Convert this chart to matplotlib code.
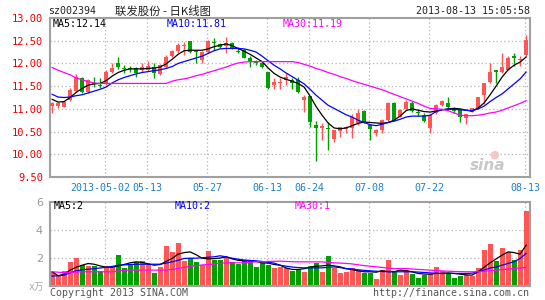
import numpy as np
import matplotlib
matplotlib.use("Agg")
from matplotlib import pyplot as plt

# daily candles, index 0 .. 79 (2013-04-17 .. 2013-08-13)
opens = [11.06, 11.06, 11.05, 11.19, 11.40, 11.69, 11.38, 11.57, 11.53, 11.58,
         11.82, 12.00, 11.90, 11.90, 11.89, 11.85, 11.85, 11.93, 11.76, 11.93,
         12.16, 12.28, 12.39, 12.50, 12.27, 12.07, 12.26, 12.47, 12.43, 12.38,
         12.44, 12.27, 12.29, 12.12, 12.04, 12.00, 11.82, 11.52, 11.56, 11.63,
         11.63, 11.63, 11.19, 11.28, 10.64, 10.57, 10.57, 10.34, 10.52, 10.55,
         10.58, 10.69, 10.96, 10.64, 10.47, 10.54, 10.75, 11.12, 10.82, 11.00,
         11.12, 10.92, 10.86, 10.57, 10.90, 11.08, 11.13, 10.98, 10.97, 10.79,
         10.93, 11.01, 11.30, 11.59, 11.85, 11.82, 11.86, 12.16, 12.08, 12.18]
closes = [11.13, 11.12, 11.16, 11.42, 11.70, 11.38, 11.63, 11.55, 11.51, 11.82,
          11.90, 11.93, 11.88, 11.88, 11.79, 11.93, 11.94, 11.79, 11.96, 12.15,
          12.28, 12.41, 12.41, 12.26, 12.26, 12.26, 12.50, 12.45, 12.37, 12.46,
          12.33, 12.26, 12.13, 12.06, 12.00, 11.93, 11.46, 11.60, 11.60, 11.71,
          11.56, 11.37, 11.26, 10.70, 10.57, 10.62, 10.55, 10.53, 10.59, 10.61,
          10.81, 10.90, 10.71, 10.55, 10.54, 10.76, 11.13, 10.76, 10.98, 11.15,
          10.96, 10.91, 10.74, 10.87, 11.08, 11.17, 11.03, 10.96, 10.82, 10.88,
          11.01, 11.26, 11.56, 11.82, 11.82, 11.93, 12.11, 12.11, 12.10, 12.51]
highs = [11.15, 11.16, 11.18, 11.45, 11.77, 11.70, 11.65, 11.70, 11.67, 11.85,
         12.01, 12.14, 11.96, 11.95, 11.92, 12.00, 12.06, 12.00, 11.98, 12.19,
         12.30, 12.46, 12.48, 12.50, 12.30, 12.27, 12.51, 12.55, 12.46, 12.59,
         12.48, 12.37, 12.31, 12.16, 12.08, 12.04, 11.82, 11.67, 11.67, 11.78,
         11.67, 11.70, 11.30, 11.28, 10.73, 10.68, 10.71, 10.54, 10.61, 10.63,
         10.88, 11.00, 10.97, 10.66, 10.56, 10.78, 11.15, 11.16, 10.99, 11.20,
         11.17, 11.00, 10.91, 10.88, 11.10, 11.19, 11.27, 11.04, 10.98, 10.89,
         11.02, 11.27, 11.57, 12.00, 11.86, 12.22, 12.16, 12.22, 12.16, 12.62]
lows = [10.90, 11.02, 11.03, 11.18, 11.38, 11.36, 11.36, 11.48, 11.45, 11.52,
        11.80, 11.88, 11.78, 11.82, 11.70, 11.82, 11.83, 11.69, 11.74, 11.91,
        12.14, 12.22, 12.19, 12.22, 12.00, 12.00, 12.24, 12.29, 12.33, 12.22,
        12.31, 12.22, 12.11, 11.93, 11.97, 11.90, 11.43, 11.43, 11.43, 11.52,
        11.43, 11.36, 10.92, 10.60, 9.86, 10.31, 10.09, 10.26, 10.37, 10.46,
        10.35, 10.64, 10.69, 10.31, 10.40, 10.47, 10.73, 10.74, 10.81, 10.98,
        10.93, 10.84, 10.71, 10.46, 10.89, 11.06, 11.02, 10.90, 10.71, 10.67,
        10.92, 11.00, 11.10, 11.58, 11.56, 11.80, 11.85, 11.95, 11.95, 12.16]

ma5 = [11.21, 11.15, 11.16, 11.25, 11.36, 11.45, 11.52, 11.55, 11.56, 11.62,
       11.72, 11.80, 11.85, 11.88, 11.88, 11.88, 11.89, 11.90, 11.92, 11.99,
       12.09, 12.20, 12.28, 12.29, 12.29, 12.29, 12.32, 12.37, 12.40, 12.43,
       12.39, 12.33, 12.27, 12.20, 12.12, 12.04, 11.90, 11.78, 11.70, 11.65,
       11.61, 11.56, 11.48, 11.28, 11.05, 10.86, 10.69, 10.58, 10.56, 10.58,
       10.63, 10.68, 10.71, 10.70, 10.69, 10.68, 10.70, 10.75, 10.84, 10.96,
       11.00, 10.97, 10.94, 10.93, 10.95, 10.98, 11.00, 11.01, 11.00, 10.97,
       10.95, 11.02, 11.13, 11.31, 11.50, 11.70, 11.86, 11.96, 12.03, 12.14]
ma10 = [11.32, 11.26, 11.25, 11.26, 11.29, 11.31, 11.35, 11.39, 11.43, 11.48,
        11.57, 11.64, 11.69, 11.73, 11.77, 11.80, 11.82, 11.84, 11.86, 11.89,
        11.93, 12.00, 12.04, 12.08, 12.12, 12.16, 12.22, 12.28, 12.32, 12.33,
        12.33, 12.33, 12.32, 12.29, 12.25, 12.16, 12.06, 11.96, 11.88, 11.79,
        11.71, 11.63, 11.55, 11.43, 11.30, 11.19, 11.08, 11.01, 10.94, 10.87,
        10.82, 10.75, 10.70, 10.65, 10.63, 10.66, 10.70, 10.73, 10.77, 10.82,
        10.84, 10.84, 10.84, 10.86, 10.94, 10.98, 10.99, 10.99, 10.98, 10.97,
        10.96, 11.00, 11.06, 11.16, 11.25, 11.33, 11.44, 11.55, 11.66, 11.81]
ma30 = [11.91, 11.85, 11.80, 11.75, 11.68, 11.64, 11.60, 11.57, 11.56, 11.56,
        11.56, 11.56, 11.56, 11.56, 11.56, 11.56, 11.56, 11.56, 11.56, 11.56,
        11.61, 11.64, 11.66, 11.69, 11.73, 11.76, 11.80, 11.84, 11.88, 11.92,
        11.97, 12.01, 12.03, 12.04, 12.04, 12.04, 12.04, 12.04, 12.04, 12.04,
        12.04, 12.02, 11.98, 11.94, 11.89, 11.85, 11.80, 11.76, 11.71, 11.67,
        11.62, 11.58, 11.54, 11.50, 11.46, 11.42, 11.37, 11.32, 11.27, 11.22,
        11.17, 11.12, 11.06, 11.01, 11.00, 10.99, 10.96, 10.91, 10.86, 10.85,
        10.85, 10.86, 10.88, 10.91, 10.93, 10.97, 11.02, 11.07, 11.12, 11.18]

# volume (x 10k lots)
volume = [0.98, 0.67, 1.05, 1.69, 1.98, 1.43, 1.38, 1.38, 1.05, 1.38,
          1.33, 2.17, 1.26, 1.45, 1.69, 1.74, 1.52, 0.90, 1.33, 2.81,
          2.40, 3.05, 1.76, 1.93, 1.69, 1.45, 2.48, 1.81, 1.81, 2.05,
          1.69, 1.57, 1.74, 1.76, 1.33, 1.62, 1.45, 1.26, 1.33, 1.26,
          1.02, 1.14, 0.98, 1.38, 1.62, 0.98, 2.10, 1.26, 0.90, 0.98,
          1.26, 1.10, 0.90, 0.90, 0.48, 1.10, 1.81, 1.02, 0.74, 1.10,
          0.81, 0.55, 0.74, 0.81, 1.33, 1.02, 0.86, 0.55, 0.67, 0.74,
          0.71, 1.26, 2.52, 2.95, 1.74, 2.71, 2.40, 1.81, 2.52, 5.31]
vma5 = [0.98, 0.70, 0.80, 1.10, 1.30, 1.45, 1.57, 1.52, 1.40, 1.30,
        1.30, 1.40, 1.50, 1.62, 1.69, 1.65, 1.55, 1.45, 1.50, 1.72,
        1.93, 2.24, 2.35, 2.40, 2.20, 1.95, 1.90, 1.92, 1.96, 2.05,
        1.90, 1.80, 1.76, 1.76, 1.72, 1.62, 1.60, 1.50, 1.45, 1.25,
        1.15, 1.14, 1.20, 1.30, 1.38, 1.40, 1.45, 1.40, 1.33, 1.20,
        1.14, 1.05, 0.98, 0.98, 0.95, 1.05, 1.00, 0.98, 1.10, 1.05,
        0.98, 0.86, 0.82, 0.81, 0.86, 0.86, 0.90, 0.86, 0.81, 0.76,
        0.74, 0.98, 1.30, 1.62, 1.90, 2.17, 2.40, 2.35, 2.24, 2.88]
vma10 = [0.67, 0.70, 0.74, 0.90, 1.05, 1.12, 1.16, 1.20, 1.25, 1.30,
         1.36, 1.45, 1.47, 1.50, 1.52, 1.52, 1.52, 1.52, 1.52, 1.60,
         1.69, 1.80, 1.93, 1.95, 1.95, 1.98, 2.02, 2.05, 2.12, 2.05,
         1.95, 1.88, 1.82, 1.79, 1.76, 1.72, 1.66, 1.60, 1.45, 1.38,
         1.32, 1.28, 1.26, 1.26, 1.26, 1.26, 1.30, 1.33, 1.28, 1.21,
         1.18, 1.12, 1.08, 1.05, 1.02, 1.00, 0.98, 0.98, 0.98, 0.98,
         0.98, 0.96, 0.93, 0.90, 0.88, 0.86, 0.86, 0.86, 0.86, 0.86,
         0.88, 0.98, 1.10, 1.25, 1.32, 1.45, 1.58, 1.70, 1.93, 2.29]
vma30 = [0.98, 0.95, 0.92, 0.93, 0.96, 0.98, 0.98, 0.98, 0.98, 0.98,
         0.98, 1.04, 1.08, 1.10, 1.10, 1.10, 1.10, 1.10, 1.10, 1.10,
         1.15, 1.22, 1.30, 1.36, 1.42, 1.47, 1.50, 1.53, 1.58, 1.62,
         1.62, 1.62, 1.62, 1.66, 1.69, 1.70, 1.72, 1.73, 1.74, 1.72,
         1.70, 1.69, 1.69, 1.69, 1.69, 1.69, 1.64, 1.62, 1.60, 1.58,
         1.54, 1.48, 1.42, 1.38, 1.34, 1.29, 1.24, 1.21, 1.21, 1.21,
         1.18, 1.15, 1.12, 1.10, 1.07, 1.04, 1.02, 1.00, 0.99, 0.98,
         0.98, 0.98, 1.02, 1.06, 1.10, 1.14, 1.17, 1.21, 1.25, 1.29]

date_pos = [9, 16, 26, 36, 43, 53, 63, 79]
date_labels = ['2013-05-02', '05-13', '05-27', '06-13', '06-24', '07-08', '07-22', '08-13']
price_ticks = [9.5, 10.0, 10.5, 11.0, 11.5, 12.0, 12.5, 13.0]
vol_ticks = [2, 4, 6]

RED = '#ff5555'
GREEN = '#00a000'
GRID = '#b4b4b4'
FRAME = '#a0a0a0'
MONO = ['DejaVu Sans Mono', 'Noto Sans CJK SC']

W, H = 545, 300
fig = plt.figure(figsize=(W / 100, H / 100), dpi=100)
fig.patch.set_facecolor('white')


def px(x, y):
    return x / W, 1 - y / H


ax1 = fig.add_axes([50 / W, 1 - 177 / H, 480 / W, 159 / H])
ax2 = fig.add_axes([50 / W, 1 - 285.5 / H, 480 / W, 84 / H])

idx = np.arange(len(closes))
cols = [RED if c >= o else GREEN for o, c in zip(opens, closes)]

# price panel
for p in price_ticks[1:-1]:
    ax1.axhline(p, color=GRID, lw=0.9, ls=(0, (1, 2)), zorder=0)
for d in date_pos:
    ax1.axvline(d - 0.2, color=GRID, lw=0.9, ls=(0, (1, 2)), zorder=0)
    ax2.axvline(d - 0.2, color=GRID, lw=0.9, ls=(0, (1, 2)), zorder=0)

ax1.vlines(idx, lows, highs, colors=cols, lw=1.0, zorder=2)
body_lo = np.minimum(opens, closes)
body_h = np.maximum(np.abs(np.array(closes) - np.array(opens)), 0.022)
ax1.bar(idx, body_h, bottom=body_lo, width=0.78, color=cols, zorder=3)

ax1.plot(idx, ma5, color='black', lw=0.9, zorder=4)
ax1.plot(idx, ma10, color='#0000ff', lw=0.9, zorder=4)
ax1.plot(idx, ma30, color='#ff00ff', lw=0.9, zorder=4)

ax1.set_xlim(-0.35, 79.65)
ax1.set_ylim(9.5, 13.0)
ax1.set_yticks(price_ticks)
ax1.set_yticklabels(['%.2f' % p for p in price_ticks])
# first label sits a bit left of its grid line, as in the original
label_pos = [d - 0.2 for d in date_pos]
label_pos[0] = 8.0
ax1.set_xticks(label_pos)
ax1.set_xticklabels(date_labels)
ax1.tick_params(axis='y', length=0, pad=5, labelcolor='#ee0000', labelsize=7.5)
ax1.tick_params(axis='x', length=0, pad=4, labelcolor='#1b7fd2', labelsize=7.2)
for t in ax1.get_yticklabels() + ax1.get_xticklabels():
    t.set_family(MONO)

# volume panel
for v in [2, 4]:
    ax2.axhline(v, color=GRID, lw=0.9, ls=(0, (1, 2)), zorder=0)
ax2.bar(idx, volume, width=0.82, color=cols, zorder=2)
ax2.plot(idx, vma5, color='black', lw=0.9, zorder=3)
ax2.plot(idx, vma10, color='#0000ff', lw=0.9, zorder=3)
ax2.plot(idx, vma30, color='#ff00ff', lw=0.9, zorder=3)
ax2.set_xlim(-0.35, 79.65)
ax2.set_ylim(0, 6)
ax2.set_yticks(vol_ticks)
ax2.set_xticks([])
ax2.tick_params(axis='y', length=0, pad=5, labelcolor='#999999', labelsize=8)

for ax in (ax1, ax2):
    for s in ax.spines.values():
        s.set_color(FRAME)
        s.set_linewidth(1.5)

# texts
fs = 7.2
fig.text(*px(48, 11), 'sz002394', family=MONO, fontsize=fs, va='center', color='#222222')
fig.text(*px(115, 11), '联发股份 - 日K线图', family=['Noto Sans CJK SC', 'DejaVu Sans'],
         fontsize=8.2, va='center', color='#222222')
fig.text(*px(530, 11), '2013-08-13 15:05:58', family=MONO, fontsize=fs, va='center',
         ha='right', color='#222222')

fig.text(*px(53, 24), 'MA5:12.14', family=MONO, fontsize=fs, va='center', color='black')
fig.text(*px(167, 24), 'MA10:11.81', family=MONO, fontsize=fs, va='center', color='#0000ff')
fig.text(*px(283, 24), 'MA30:11.19', family=MONO, fontsize=fs, va='center', color='#ff00ff')

fig.text(*px(54, 206), 'MA5:2', family=MONO, fontsize=fs, va='center', color='black')
fig.text(*px(175, 206), 'MA10:2', family=MONO, fontsize=fs, va='center', color='#0000ff')
fig.text(*px(295, 206), 'MA30:1', family=MONO, fontsize=fs, va='center', color='#ff00ff')

fig.text(*px(44, 287), 'x万', family=MONO, fontsize=7, va='center', ha='right', color='#aaaaaa')
fig.text(*px(50, 293), 'Copyright 2013 SINA.COM', family=MONO, fontsize=fs, va='center',
         color='#555555')
fig.text(*px(529, 293), 'http://finance.sina.com.cn', family=MONO, fontsize=fs, va='center',
         ha='right', color='#555555')

fig.text(*px(505, 166), 'sina', fontsize=11, fontweight='bold', style='italic',
         color='#c8c8c8', va='center', ha='right', family='DejaVu Sans')
fig.text(*px(494, 155), '●', fontsize=8, color='#f4c6c6', va='center', ha='center',
         family='DejaVu Sans')

fig.savefig('out.png', dpi=100)
